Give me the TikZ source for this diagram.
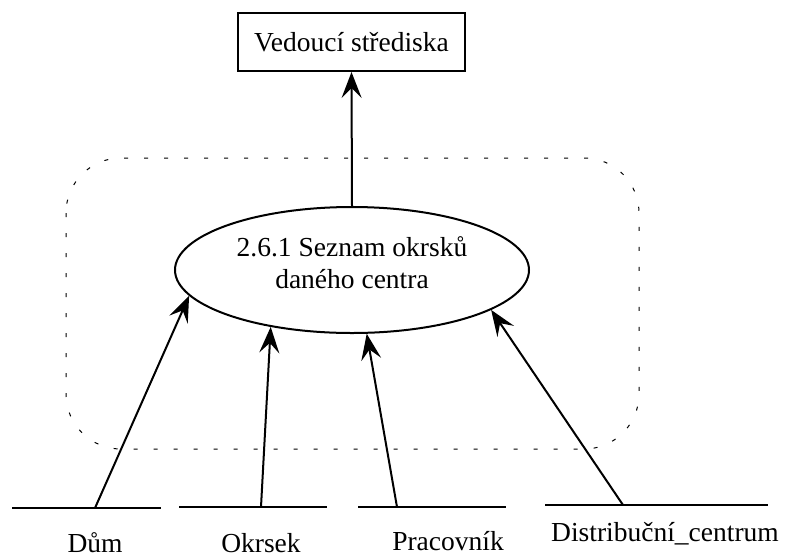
\documentclass[tikz,border=0pt]{standalone}
\usepackage{fontspec}
\setmainfont{Liberation Serif}
\usetikzlibrary{arrows.meta,shapes.geometric}
\begin{document}
\begin{tikzpicture}[x=1pt,y=-1pt,
  every node/.style={font=\fontsize{27.5}{32}\selectfont},
  flow/.style={line width=2pt,-{Stealth[length=26pt,width=20pt,inset=10pt]}},
  storeline/.style={line width=2pt},
  boundary/.style={line width=1pt,dash pattern=on 4pt off 16pt,rounded corners=55pt},
  entity/.style={draw,line width=2pt,minimum width=227pt,minimum height=58pt,inner sep=0pt},
  process/.style={draw,ellipse,line width=2pt,minimum width=354pt,minimum height=126pt,inner sep=0pt},
  ptext/.style={align=center,inner sep=0pt},
  lbl/.style={anchor=base,inner sep=0pt}]
\useasboundingbox (0,0) rectangle (785,558);
\draw[boundary] (66,158) rectangle (639,449);
\node[entity] (ved) at (351.5,42) {Vedoucí střediska};
\node[process] (proc) at (352,270) {};
\node[ptext] (proctext) at (352,263) {2.6.1 Seznam okrsků\\daného centra};
% stores
\coordinate (s1l) at (12,508); \coordinate (s1r) at (161,508); \coordinate (s1) at (95,508);
\coordinate (s2l) at (179,507); \coordinate (s2r) at (327,507); \coordinate (s2) at (261,507);
\coordinate (s3l) at (358,507); \coordinate (s3r) at (506,507); \coordinate (s3) at (397,507);
\coordinate (s4l) at (545,505); \coordinate (s4r) at (768,505); \coordinate (s4) at (623,505);
\draw[storeline] (s1l) -- (s1r);
\draw[storeline] (s2l) -- (s2r);
\draw[storeline] (s3l) -- (s3r);
\draw[storeline] (s4l) -- (s4r);
\node[lbl] (t1) at (95,552) {Dům};
\node[lbl] (t2) at (261,552) {Okrsek};
\node[lbl] (t3) at (448,550) {Pracovník};
\node[lbl] (t4) at (665,541) {Distribuční\_centrum};
% flows
\draw[flow] (proc.north) -- (ved.south);
\draw[flow] (s1) -- (proc.189.5);
\draw[flow] (s2) -- (proc.215.8);
\draw[flow] (s3) -- (proc.283.2);
\draw[flow] (s4) -- (proc.344.9);
\end{tikzpicture}
\end{document}
